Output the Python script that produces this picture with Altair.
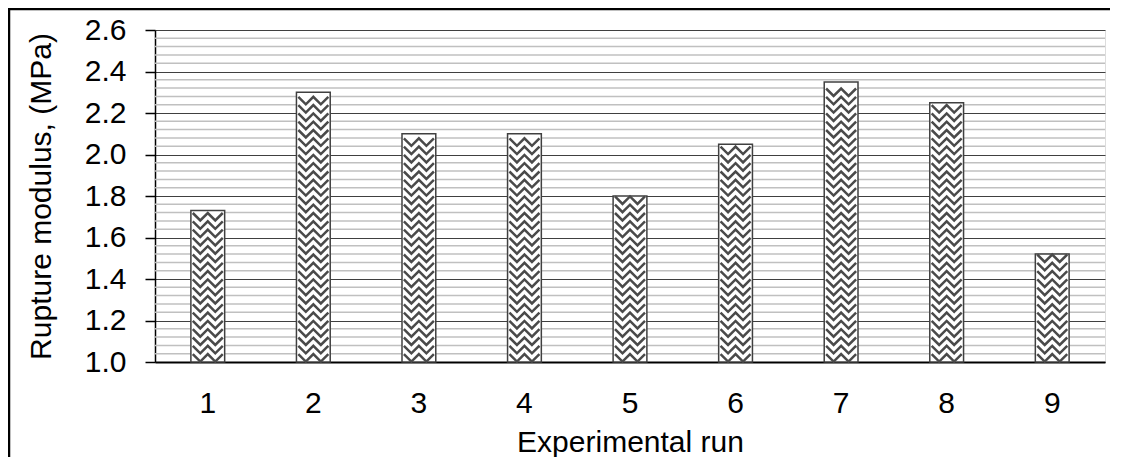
import altair as alt
import pandas as pd

runs = ["1", "2", "3", "4", "5", "6", "7", "8", "9"]
modulus = [1.73, 2.30, 2.10, 2.10, 1.80, 2.05, 2.35, 2.25, 1.52]
y_ticks = [1.0, 1.2, 1.4, 1.6, 1.8, 2.0, 2.2, 2.4, 2.6]

df = pd.DataFrame({"run": runs, "modulus": modulus})

FONT = "Liberation Sans"
FS = 30
x_scale = alt.Scale(paddingInner=0.68, paddingOuter=0.34)
y_scale = alt.Scale(domain=[1.0, 2.6], nice=False, zero=False)

y_axis = alt.Axis(
    values=y_ticks, format=".1f", title="Rupture modulus, (MPa)",
    grid=True, gridColor="#404040", gridWidth=1,
    domainColor="black", domainWidth=1.5,
    tickColor="black", tickSize=10, tickWidth=1.5,
    labelFont=FONT, labelFontSize=FS, labelColor="black", labelPadding=19,
    titleFont=FONT, titleFontSize=FS, titleFontWeight="normal", titleColor="black",
    titleX=-105, titleY=166, titleAngle=270, titleBaseline="alphabetic", titleAlign="center",
)
x_axis = alt.Axis(
    title="Experimental run", labelAngle=0, ticks=False, tickSize=0,
    domainColor="black", domainWidth=2, grid=False,
    labelFont=FONT, labelFontSize=FS, labelColor="black", labelPadding=26,
    titleFont=FONT, titleFontSize=FS, titleFontWeight="normal", titleColor="black",
    titleX=475, titleY=89, titleBaseline="alphabetic", titleAlign="center",
)

frame = alt.Chart(alt.Data(values=[{}])).mark_rect(
    fill="transparent", stroke="black", strokeWidth=2.5
).encode(
    x=alt.value(-146), x2=alt.value(3000), y=alt.value(-21), y2=alt.value(3000)
)

minor = alt.Chart(alt.sequence(1.0, 2.62, 0.04, as_="v")).transform_filter(
    "abs(datum.v*5 - round(datum.v*5)) > 0.05"
).mark_rule(color="#c0c0c0", strokeWidth=1.5).encode(
    y=alt.Y("v:Q", scale=y_scale, axis=y_axis)
)

base = alt.Chart(df)

bars = base.mark_bar(fill="white", stroke="#404040", strokeWidth=1.5).encode(
    x=alt.X("run:N", scale=x_scale, axis=x_axis, sort=runs),
    y=alt.Y("modulus:Q", scale=y_scale, axis=y_axis),
    y2=alt.datum(1.0),
)

pattern = base.transform_calculate(
    ys="sequence(1.02, datum.modulus - 0.015, 0.04)"
).transform_flatten(["ys"]).mark_point(
    shape="M-1,-0.25L-0.5,0.25L0,-0.25L0.5,0.25L1,-0.25",
    size=900, filled=False, stroke="#4a4a4a", strokeWidth=2.5, opacity=1,
).encode(
    x=alt.X("run:N", scale=x_scale, axis=x_axis, sort=runs),
    y=alt.Y("ys:Q", scale=y_scale, axis=y_axis),
)

chart = alt.layer(frame, minor, bars, pattern).properties(
    width=950, height=332,
    padding={"left": 147, "top": 22, "right": 5, "bottom": 95},
    autosize=alt.AutoSizeParams(type="none"),
).configure_view(stroke="#404040", strokeWidth=1.5).configure(background="white")

chart.save("out.html", embed_options={"renderer": "svg", "actions": False})
